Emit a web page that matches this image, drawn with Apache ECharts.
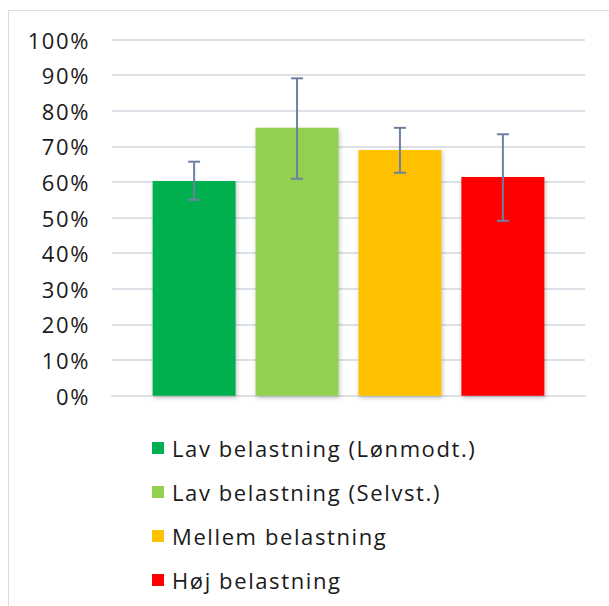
<!DOCTYPE html>
<html>
<head>
<meta charset="utf-8">
<script src="https://cdn.jsdelivr.net/npm/echarts@6/dist/echarts.min.js"></script>
<style>
  html, body { margin: 0; padding: 0; background: #fff; }
  .frame {
    position: absolute; left: 8px; top: 10px;
    width: 620px; height: 620px;
    border: 1px solid #d9dde3;
  }
  #chart { position: absolute; left: 0; top: 0; width: 609px; height: 606px; }
  #chart text { letter-spacing: 1.6px; }
</style>
</head>
<body>
<div class="frame"></div>
<div id="chart"></div>
<script>
// series names (legend) and colours
const seriesNames = ['Lav belastning (Lønmodt.)', 'Lav belastning (Selvst.)', 'Mellem belastning', 'Høj belastning']
const seriesColors = ['#00B050', '#92D050', '#FFC000', '#FF0000']
// bar values in percent
const values = [60.3, 75.2, 69.0, 61.4]
// error bar ends in percent
const errLow = [55.0, 60.9, 62.6, 49.1]
const errHigh = [65.7, 89.1, 75.2, 73.4]
const category = ['']

const chart = echarts.init(document.getElementById('chart'), null, { renderer: 'svg' })
const font = 'Open Sans'

const barSeries = seriesNames.map((name, i) => ({
  name,
  type: 'bar',
  data: [values[i]],
  barWidth: 83,
  barGap: '24%',
  itemStyle: {
    color: seriesColors[i],
    shadowBlur: 4,
    shadowOffsetX: 1,
    shadowOffsetY: 2,
    shadowColor: 'rgba(0,0,0,0.25)'
  },
  z: 2
}))

// error bars drawn with a custom series, offset like the bars
const errorSeries = {
  type: 'custom',
  z: 5,
  silent: true,
  data: values.map((v, i) => [i, errLow[i], errHigh[i]]),
  renderItem (params, api) {
    const idx = api.value(0)
    const lo = api.coord([0, api.value(1)])
    const hi = api.coord([0, api.value(2)])
    const bw = 83, gap = 83 * 0.24
    const total = bw * 4 + gap * 3
    const x = lo[0] - total / 2 + bw / 2 + idx * (bw + gap)
    const cap = 6
    const style = { stroke: '#6d819f', lineWidth: 2 }
    return {
      type: 'group',
      children: [
        { type: 'line', shape: { x1: x, y1: hi[1], x2: x, y2: lo[1] }, style },
        { type: 'line', shape: { x1: x - cap, y1: hi[1], x2: x + cap, y2: hi[1] }, style },
        { type: 'line', shape: { x1: x - cap, y1: lo[1], x2: x + cap, y2: lo[1] }, style }
      ]
    }
  }
}

chart.setOption({
  animation: false,
  grid: { left: 112, right: 24, top: 39.5, height: 356.2 },
  legend: {
    data: seriesNames,
    orient: 'vertical',
    left: 152,
    top: 436,
    padding: 0,
    icon: 'rect',
    itemWidth: 12,
    itemHeight: 12,
    itemGap: 20,
    textStyle: { fontFamily: font, fontSize: 22, color: '#1a1a1a', lineHeight: 24, padding: [0, 0, 0, 3] }
  },
  xAxis: {
    type: 'category',
    data: category,
    axisLine: { show: true, lineStyle: { color: '#dde1e7', width: 2 } },
    axisTick: { show: false },
    axisLabel: { show: false }
  },
  yAxis: {
    type: 'value',
    min: 0,
    max: 100,
    interval: 10,
    axisLine: { show: false },
    axisTick: { show: false },
    splitLine: { lineStyle: { color: '#dde1e7', width: 2 } },
    axisLabel: {
      margin: 22,
      formatter: '{value}%',
      fontFamily: font,
      fontSize: 22,
      color: '#1a1a1a'
    }
  },
  series: [...barSeries, errorSeries]
})
</script>
</body>
</html>
